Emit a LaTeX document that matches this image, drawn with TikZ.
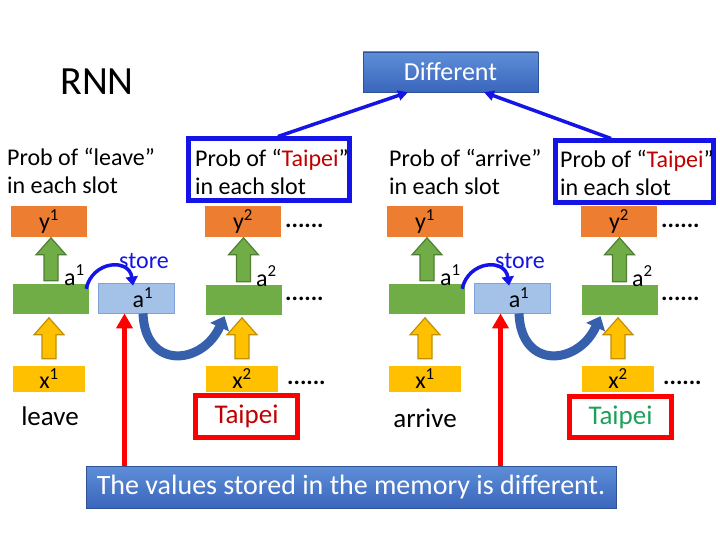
\documentclass[tikz,border=0pt]{standalone}
\usepackage{fontspec}
\setmainfont{Carlito}
\usepackage{xcolor}
\usetikzlibrary{arrows.meta}

\definecolor{yorange}{HTML}{ED7D31}
\definecolor{agreen}{HTML}{70AD47}
\definecolor{agreendark}{HTML}{507E32}
\definecolor{xyellow}{HTML}{FFC000}
\definecolor{xyellowdark}{HTML}{BF9000}
\definecolor{memblue}{HTML}{A4C2E8}
\definecolor{memborder}{HTML}{7FA3D8}
\definecolor{probblue}{HTML}{1414E6}
\definecolor{boxtop}{HTML}{5E8ED8}
\definecolor{boxbottom}{HTML}{3A66BC}
\definecolor{curveblue}{HTML}{3660AC}
\definecolor{taipeired}{HTML}{C00000}
\definecolor{taipeigreen}{HTML}{1EA05A}

\tikzset{
  txt/.style={inner sep=0pt, font=\fontsize{24}{28}\selectfont},
  word/.style={inner sep=0pt, font=\fontsize{27}{30}\selectfont},
  dots/.style={inner sep=0pt, font=\fontsize{24}{28}\selectfont\bfseries},
  ybox/.style={txt, fill=yorange, minimum width=76pt, minimum height=31pt},
  abox/.style={fill=agreen, minimum width=76pt, minimum height=30pt, inner sep=0pt},
  xbox/.style={txt, fill=xyellow, minimum width=72pt, minimum height=26pt},
  membox/.style={txt, fill=memblue, draw=memborder, line width=0.8pt, minimum width=76pt, minimum height=30pt},
  probbox/.style={draw=probblue, line width=5pt, minimum height=62pt, inner sep=0pt},
  wordbox/.style={word, draw=red, line width=5pt, minimum width=102pt, minimum height=42pt},
  bluebox/.style={inner sep=0pt, text=white, top color=boxtop, bottom color=boxbottom, draw=boxbottom!80!black, line width=0.4pt},
  greenarr/.style={fill=agreen, draw=agreendark, line width=1.2pt},
  yellowarr/.style={fill=xyellow, draw=xyellowdark, line width=1.2pt},
  storearr/.style={draw=probblue, line width=3.5pt, -{Triangle[length=9pt,width=12pt]}},
  memarr/.style={draw=curveblue, line width=9pt, -{Triangle[length=12pt,width=20pt]}},
  redarr/.style={draw=red, line width=5pt, -{Triangle[length=15pt,width=16pt]}},
  diffarr/.style={draw=probblue, line width=3.5pt, -{Triangle[length=10pt,width=10pt]}},
  pics/uparrow/.style={code={
    \draw[pic actions] (-7,0) -- (-7,17-#1) -- (-15,17-#1) -- (0,-#1)
      -- (15,17-#1) -- (7,17-#1) -- (7,0) -- cycle;
  }}
}

\begin{document}
\begin{tikzpicture}[x=1pt, y=-1pt]
    \useasboundingbox (0,0) rectangle (720,540);

    % title and the two blue boxes
    \node[inner sep=0pt, font=\fontsize{40}{40}\selectfont, anchor=base] (title) at (97,95) {RNN};
    \node[bluebox, font=\fontsize{26}{30}\selectfont, minimum width=175pt, minimum height=40pt] (diff) at (450.5,72) {Different};
    \node[bluebox, font=\fontsize{28}{32}\selectfont, minimum width=530pt, minimum height=42pt] (bot) at (351,487) {The values stored in the memory is different.};

    % output texts
    \node[txt, anchor=north west, align=left] (pleave) at (7,148) {Prob of “leave”\\in each slot};
    \node[txt, anchor=north west, align=left] (parrive) at (389,149) {Prob of “arrive”\\in each slot};
    \node[probbox, minimum width=161pt] (pL) at (268.5,170) {};
    \node[probbox, minimum width=158pt] (pR) at (634,172) {};
    \node[txt, anchor=north west, align=left] (ptL) at (195,149) {Prob of “\textcolor{taipeired}{Taipei}”\\in each slot};
    \node[txt, anchor=north west, align=left] (ptR) at (560,150) {Prob of “\textcolor{taipeired}{Taipei}”\\in each slot};
    \draw[diffarr] ([xshift=9.5pt]pL.north) -- ([xshift=-42.5pt]diff.south);
    \draw[diffarr] ([xshift=-23pt]pR.north) -- ([xshift=33.5pt]diff.south);

    % the two networks
    \foreach \c/\o in {L/0,R/376}{
        \node[ybox] (y1\c) at (49+\o,221.5) {y\textsuperscript{1}};
        \node[abox] (a1\c) at (51+\o,299) {};
        \node[membox] (m\c) at (136+\o,298) {\hspace*{14pt}a\textsuperscript{1}};
        \node[xbox] (x1\c) at (49+\o,379) {x\textsuperscript{1}};
        \node[ybox] (y2\c) at (243+\o,221.5) {y\textsuperscript{2}};
        \node[abox] (a2\c) at (243.5+\o,300) {};
        \node[xbox] (x2\c) at (242+\o,378.5) {x\textsuperscript{2}};

        \node[txt, anchor=base west] (la1\c) at (64+\o,285) {a\textsuperscript{1}};
        \node[txt, anchor=base west] (la2\c) at (256+\o,286) {a\textsuperscript{2}};
        \node[txt, text=probblue, anchor=base west] (st\c) at (119+\o,268) {store};
        \node[dots, anchor=base west] (dy\c) at (285+\o,227) {......};
        \node[dots, anchor=base west] (da\c) at (285+\o,300) {......};
        \node[dots, anchor=base west] (dx\c) at (287+\o,384) {......};

        \pic[greenarr] at ([yshift=3pt]a1\c.north) {uparrow=43};
        \pic[yellowarr] at ([yshift=7pt]x1\c.north) {uparrow=41};
        \pic[greenarr] at ([yshift=3pt]a2\c.north) {uparrow=44};
        \pic[yellowarr] at ([yshift=6.5pt]x2\c.north) {uparrow=41};

        \draw[storearr] ([yshift=-5pt,xshift=-3pt]a1\c.north east)
            .. controls +(6,-28) and +(-4,-28) .. ([shift={(-3pt,-3pt)}]m\c.north);
        \draw[memarr] ([xshift=7pt]m\c.south)
            .. controls +(2,57) and +(-22,49) .. ([shift={(-19pt,-1pt)}]a2\c.south);
        \coordinate (r\c) at ([xshift=-11.5pt]m\c.south);
        \draw[redarr] (bot.north -| r\c) -- (r\c);
    }

    % input words
    \node[word, anchor=base] (leave) at (50,425) {leave};
    \node[word, anchor=base] (arrive) at (425,427) {arrive};
    \node[wordbox, text=taipeired] (tL) at (246.5,416.5) {Taipei};
    \node[wordbox, text=taipeigreen, minimum height=41pt] (tR) at (620.5,417) {Taipei};
\end{tikzpicture}
\end{document}
